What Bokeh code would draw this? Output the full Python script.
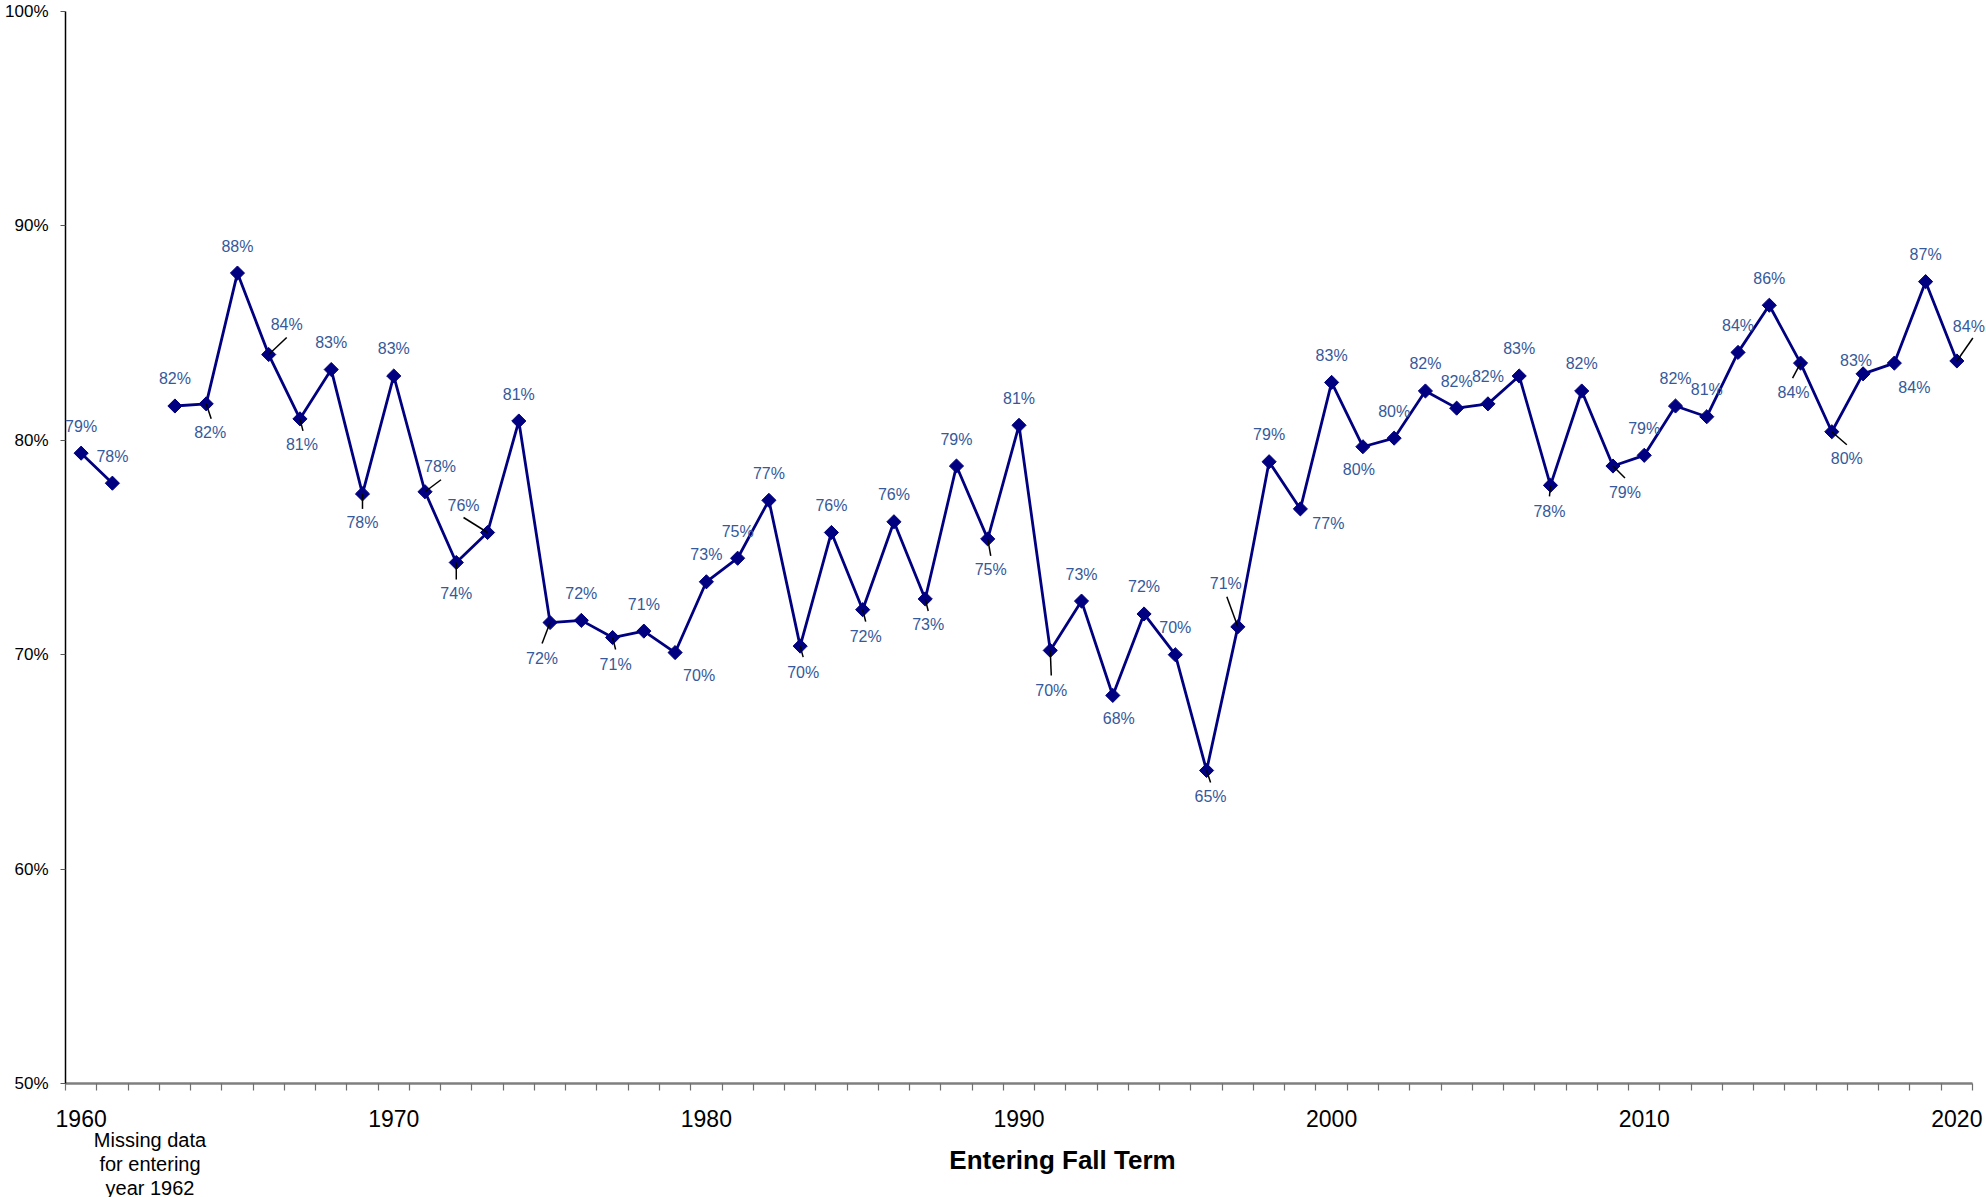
import math
from bokeh.plotting import figure
from bokeh.core.properties import value
from bokeh.models import (ColumnDataSource, Range1d, FixedTicker, PrintfTickFormatter,
                          LabelSet, Label)
from bokeh.embed import file_html
from bokeh.resources import INLINE

# ---- data: retention rate by entering fall term (1962 not available) ----
years = [1960, 1961,
         1963, 1964, 1965, 1966, 1967, 1968, 1969,
         1970, 1971, 1972, 1973, 1974, 1975, 1976, 1977, 1978, 1979,
         1980, 1981, 1982, 1983, 1984, 1985, 1986, 1987, 1988, 1989,
         1990, 1991, 1992, 1993, 1994, 1995, 1996, 1997, 1998, 1999,
         2000, 2001, 2002, 2003, 2004, 2005, 2006, 2007, 2008, 2009,
         2010, 2011, 2012, 2013, 2014, 2015, 2016, 2017, 2018, 2019,
         2020]
rates = [79.4, 78.0,
         81.6, 81.7, 87.8, 84.0, 81.0, 83.3, 77.5,
         83.0, 77.6, 74.3, 75.7, 80.9, 71.5, 71.6, 70.8, 71.1, 70.1,
         73.4, 74.5, 77.2, 70.4, 75.7, 72.1, 76.2, 72.6, 78.8, 75.4,
         80.7, 70.2, 72.5, 68.1, 71.9, 70.0, 64.6, 71.3, 79.0, 76.8,
         82.7, 79.7, 80.1, 82.3, 81.5, 81.7, 83.0, 77.9, 82.3, 78.8,
         79.3, 81.6, 81.1, 84.1, 86.3, 83.6, 80.4, 83.1, 83.6, 87.4,
         83.7]
decade_ticks = [1960, 1970, 1980, 1990, 2000, 2010, 2020]
pct_ticks = [50, 60, 70, 80, 90, 100]
note_lines = ["Missing data", "for entering", "year 1962"]
x_title = "Entering Fall Term"

# ---- layout ----
W, H = 1986, 1197
AXIS_LEFT_PX, AXIS_TOP_PX = 65, 11   # where the axes start on the canvas
X0, X1 = 1959.5, 2020.5              # extent of the x axis (year categories)
Y0, Y1 = 50, 100                     # extent of the y axis
AXIS_W, AXIS_H = 1907, 1072          # axis lengths in pixels
PX_X = AXIS_W / (X1 - X0)            # pixels per year
PX_Y = AXIS_H / (Y1 - Y0)            # pixels per percentage point
AXIS_BOTTOM_PX = AXIS_TOP_PX + AXIS_H

# the frame fills the whole canvas; both axes are pinned inside it
X_START = X0 - AXIS_LEFT_PX / PX_X
X_END = X0 + (W - AXIS_LEFT_PX) / PX_X
Y_END = Y1 + AXIS_TOP_PX / PX_Y
Y_START = Y1 - (H - AXIS_TOP_PX) / PX_Y


def px_to_x(px):
    return X0 + (px - AXIS_LEFT_PX) / PX_X


def px_to_y(py):
    return Y0 - (py - AXIS_BOTTOM_PX) / PX_Y


LINE_COLOR = "#000080"
LABEL_COLOR = "#35599A"
FONT = "Liberation Sans"

# label placement in pixels relative to the marker (+dy = downward)
DEFAULT_OFFSET = (0, -27)
label_offsets = {
    1964: (4, 29), 1966: (18, -30), 1967: (2, 26), 1969: (0, 29),
    1971: (15, -25), 1972: (0, 31), 1973: (-24, -27), 1975: (-8, 36),
    1977: (3, 27), 1979: (24, 23), 1983: (3, 26), 1985: (3, 27),
    1987: (3, 26), 1989: (3, 31), 1991: (1, 40), 1993: (6, 23),
    1996: (4, 26), 1997: (-12, -43), 1999: (28, 15), 2001: (-4, 23),
    2007: (-1, 26), 2009: (12, 26), 2015: (-7, 29), 2016: (15, 27),
    2017: (-7, -13), 2018: (20, 24), 2020: (12, -34),
}
# leader lines: end point in pixels relative to the marker
leader_ends = {
    1964: (5, 15), 1966: (18, -17), 1967: (3, 12), 1969: (0, 15),
    1971: (16, -12), 1972: (0, 17), 1973: (-24, -15), 1975: (-8, 21),
    1977: (3, 12), 1983: (3, 11), 1985: (3, 12), 1987: (3, 12),
    1989: (3, 17), 1991: (1, 25), 1996: (4, 12), 1997: (-11, -30),
    2007: (-1, 11), 2009: (12, 12), 2015: (-8, 15), 2016: (15, 13),
    2020: (16, -23),
}


def pct_label(v):
    return f"{math.floor(v + 0.5)}%"


# line broken where a year is missing
line_x, line_y = [], []
for i, (yr, v) in enumerate(zip(years, rates)):
    if i > 0 and yr - years[i - 1] > 1:
        line_x.append(float("nan"))
        line_y.append(float("nan"))
    line_x.append(yr)
    line_y.append(v)

lab_x, lab_y, lab_t = [], [], []
for yr, v in zip(years, rates):
    dx, dy = label_offsets.get(yr, DEFAULT_OFFSET)
    lab_x.append(yr + dx / PX_X)
    lab_y.append(v - dy / PX_Y)
    lab_t.append(pct_label(v))

ld_x0, ld_y0, ld_x1, ld_y1 = [], [], [], []
for yr, v in zip(years, rates):
    if yr in leader_ends:
        ex, ey = leader_ends[yr]
        ld_x0.append(yr)
        ld_y0.append(v)
        ld_x1.append(yr + ex / PX_X)
        ld_y1.append(v - ey / PX_Y)

p = figure(width=W, height=H, output_backend="svg", toolbar_location=None,
           x_range=Range1d(X_START, X_END), y_range=Range1d(Y_START, Y_END),
           min_border=0)
p.outline_line_color = None
p.xgrid.visible = False
p.ygrid.visible = False
p.background_fill_color = "white"
p.border_fill_color = "white"

# x axis at 50%: year boundaries as ticks, decade labels centred on the year
xa = p.xaxis[0]
xa.fixed_location = Y0
xa.bounds = (X0, X1)
xa.ticker = FixedTicker(ticks=decade_ticks,
                        minor_ticks=[y + 0.5 for y in range(1959, 2021)])
xa.axis_line_color = "#7f7f7f"
xa.axis_line_width = 2.5
xa.major_tick_out = 0
xa.major_tick_in = 0
xa.minor_tick_out = 7
xa.minor_tick_in = 0
xa.minor_tick_line_color = "#6f6f6f"
xa.minor_tick_line_width = 1.2
xa.major_label_standoff = 19
xa.major_label_text_font = FONT
xa.major_label_text_font_size = "23px"
xa.major_label_text_color = "black"

ya = p.yaxis[0]
ya.fixed_location = X0
ya.bounds = (Y0, Y1)
ya.ticker = FixedTicker(ticks=pct_ticks, minor_ticks=[])
ya.formatter = PrintfTickFormatter(format="%d%%")
ya.axis_line_color = "black"
ya.axis_line_width = 1.5
ya.major_tick_out = 5
ya.major_tick_in = 0
ya.major_tick_line_color = "#555555"
ya.major_tick_line_width = 1.2
ya.major_label_standoff = 12
ya.major_label_text_font = FONT
ya.major_label_text_font_size = "17px"
ya.major_label_text_color = "black"

p.line(line_x, line_y, line_color=LINE_COLOR, line_width=2.8)
p.scatter(years, rates, marker="square", angle=math.pi / 4, size=10,
          fill_color=LINE_COLOR, line_color=LINE_COLOR)
p.segment(ld_x0, ld_y0, ld_x1, ld_y1, line_color="black", line_width=1.5)

labels = LabelSet(source=ColumnDataSource(dict(x=lab_x, y=lab_y, t=lab_t)),
                  x="x", y="y", text="t", text_align="center",
                  text_baseline="middle", text_font=value(FONT),
                  text_font_size="16px", text_color=LABEL_COLOR)
p.add_layout(labels)

# note under the first years and the x-axis title
for k, line in enumerate(note_lines):
    p.add_layout(Label(x=px_to_x(149.5), y=px_to_y(1139 + 24 * k), text=line,
                       text_align="center", text_baseline="middle",
                       text_font=FONT, text_font_size="20px", text_color="black"))

p.add_layout(Label(x=px_to_x(1062), y=px_to_y(1159), text=x_title,
                   text_align="center", text_baseline="middle",
                   text_font=FONT, text_font_size="26px",
                   text_font_style="bold", text_color="black"))

open("out.html", "w").write(file_html(p, INLINE))
